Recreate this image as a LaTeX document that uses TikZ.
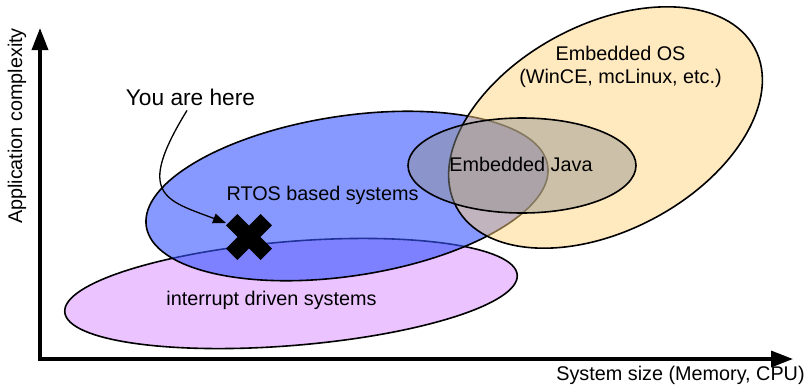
\documentclass[tikz,border=0pt]{standalone}
\usepackage{fontspec}
\setmainfont{Liberation Sans}
\usetikzlibrary{arrows.meta,calc}

\definecolor{pinkfill}{RGB}{234,195,255}
\definecolor{bluefill}{RGB}{55,85,255}
\definecolor{osfill}{RGB}{255,210,124}
\definecolor{javafill}{RGB}{144,143,140}

\begin{document}
\begin{tikzpicture}[x=1pt,y=-1pt,
  lbl/.style={font=\fontsize{19.8}{23}\selectfont, inner sep=0pt, anchor=base, align=center},
  biglbl/.style={font=\fontsize{22.7}{26}\selectfont, inner sep=0pt, anchor=base},
  region/.style={draw=black, line width=1.6pt},
  axis/.style={line width=3.4pt, line join=miter,
    {Triangle[length=22pt,width=16pt]}-{Triangle[length=22pt,width=16pt]}},
  pointer/.style={line width=1.3pt, -{Triangle[length=13pt,width=10pt]}},
  crossbar/.style={line width=16pt, line cap=butt},
]
\useasboundingbox (0,0) rectangle (811,386);

% axes
\coordinate (origin) at (40,359);
\coordinate (ytip) at (40,28);
\coordinate (xtip) at (793,359);
\draw[axis] (ytip) -- (origin) -- (xtip);

% regions, bottom to top
\path[region, fill=pinkfill, rotate around={4.7:(291,293.5)}]
  (291,293.5) ellipse (227 and 52);
\path[region, fill=bluefill, fill opacity=0.6, rotate around={8.6:(347,196)}]
  (347,196) ellipse (203 and 80);
\path[region, fill=osfill, fill opacity=0.49, rotate around={28:(605.5,127.5)}]
  (605.5,127.5) ellipse (169 and 103);
\path[region, fill=javafill, fill opacity=0.45]
  (522,165.5) ellipse (114 and 47.5);

% the cross marking the current position
\coordinate (here) at (249,237);
\draw[crossbar] ($(here)+(-17.3,-17.3)$) -- ($(here)+(17.3,17.3)$);
\draw[crossbar] ($(here)+(-17.3,17.3)$) -- ($(here)+(17.3,-17.3)$);

% labels
\node[lbl] (rtos) at (322.5,200.5) {RTOS based systems};
\node[lbl] (irq) at (271.5,305) {interrupt driven systems};
\node[lbl] (os) at (620.5,83.5) {Embedded OS\\(WinCE, mcLinux, etc.)};
\node[lbl] (java) at (521,171.5) {Embedded Java};
\node[lbl, rotate=90] (ylab) at (22,126) {Application complexity};
\node[lbl] (xlab) at (680.5,380) {System size (Memory, CPU)};
\node[biglbl] (you) at (190.5,105) {You are here};

% pointer from the caption to the cross
\draw[pointer] ($(you.south)+(-3.5,5)$)
  .. controls (135,195) and (165,200) .. ($(here)+(-23,-14)$);
\end{tikzpicture}
\end{document}
